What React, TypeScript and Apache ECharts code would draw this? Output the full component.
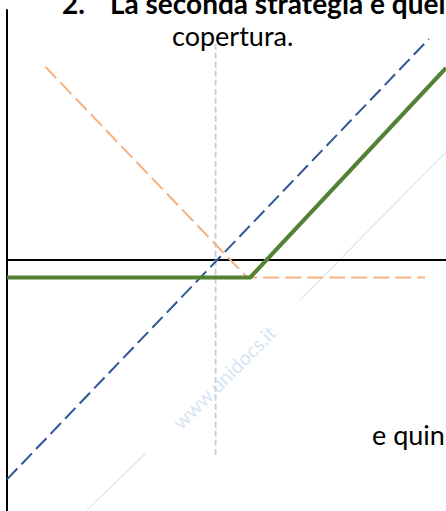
import React, { useEffect, useRef } from "react";
import * as echarts from "echarts";

// Payoff diagram values (x = underlying price units, y = profit units)
const underlying: [number, number][] = [[0, -50], [96.1, 50.3]];
const putOption: [number, number][] = [[8.7, 44], [54.7, -4], [95.2, -4]];
const protectivePut: [number, number][] = [[0, -4], [55.4, -4], [100, 43.7]];
const strikeLine: [number, number][] = [[47.5, 49.2], [47.5, -44.4]];

const titleNumber = "2.";
const titleText = "La seconda strategia è quella di";
const line2 = "copertura.";
const line3 = "e quindi";
const watermark = "www.unidocs.it";

export default function App() {
  const ref = useRef<HTMLDivElement>(null);
  useEffect(() => {
    if (!ref.current) return;
    const chart = echarts.init(ref.current, null, { renderer: "svg" });
    const font = "Lato, 'Open Sans', sans-serif";
    chart.setOption({
      animation: false,
      backgroundColor: "#ffffff",
      grid: { left: 7, right: 0, top: 10, bottom: 0, containLabel: false },
      xAxis: {
        type: "value",
        min: 0,
        max: 100,
        axisLine: { show: true, onZero: true, lineStyle: { color: "#000", width: 2 } },
        axisTick: { show: false },
        axisLabel: { show: false },
        splitLine: { show: false },
      },
      yAxis: {
        type: "value",
        min: -57.2,
        max: 56.9,
        axisLine: { show: true, onZero: false, lineStyle: { color: "#000", width: 2 } },
        axisTick: { show: false },
        axisLabel: { show: false },
        splitLine: { show: false },
      },
      graphic: [
        { type: "line", z: 0, shape: { x1: 87, y1: 510, x2: 146, y2: 453 }, style: { stroke: "#ddeaf7", lineWidth: 1.5 } },
        { type: "line", z: 0, shape: { x1: 300, y1: 300, x2: 446, y2: 152 }, style: { stroke: "#ddeaf7", lineWidth: 1.5 } },
        {
          type: "text", z: 0, x: 224, y: 377, rotation: Math.PI / 4,
          style: { text: watermark, font: `20px ${font}`, fill: "#d6e5f4", align: "center", verticalAlign: "middle" },
        },
        {
          type: "text", x: 62, y: -11,
          style: { text: titleNumber, font: `bold 28px ${font}`, fill: "#000", verticalAlign: "top" },
        },
        {
          type: "text", x: 110, y: -11,
          style: { text: titleText, font: `bold 28px ${font}`, fill: "#000", verticalAlign: "top" },
        },
        {
          type: "text", x: 172, y: 22,
          style: { text: line2, font: `27px ${font}`, fill: "#000", verticalAlign: "top" },
        },
        {
          type: "text", x: 372, y: 421,
          style: { text: line3, font: `27px ${font}`, fill: "#000", verticalAlign: "top" },
        },
      ],
      series: [
        {
          type: "line", data: strikeLine, showSymbol: false, z: 1,
          lineStyle: { color: "#d0d0d0", width: 2, type: [6, 3] },
        },
        {
          type: "line", data: putOption, showSymbol: false, z: 2,
          lineStyle: { color: "#f4b183", width: 2, type: [16, 6] },
        },
        {
          type: "line", data: underlying, showSymbol: false, z: 3,
          lineStyle: { color: "#2f5597", width: 2, type: [15, 6] },
        },
        {
          type: "line", data: protectivePut, showSymbol: false, z: 4,
          lineStyle: { color: "#548235", width: 4, cap: "butt", join: "miter" },
        },
      ],
    });
    return () => chart.dispose();
  }, []);
  return <div ref={ref} style={{ position: "fixed", left: 0, top: 0, width: 446, height: 511 }} />;
}
